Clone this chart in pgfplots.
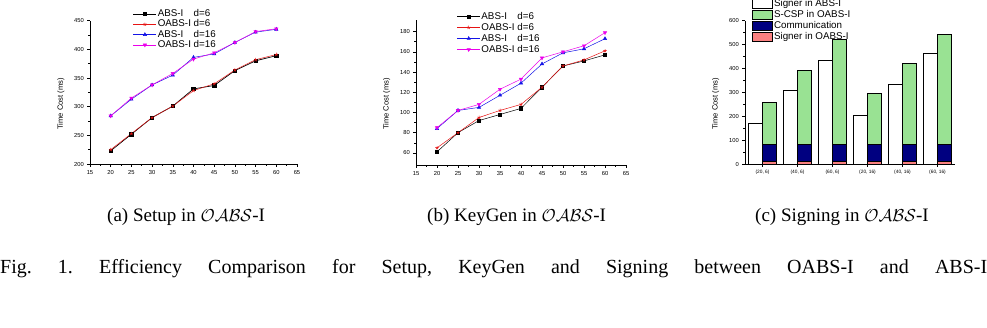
\documentclass[border=0pt]{standalone}
\usepackage{pgfplots}
\pgfplotsset{compat=1.18}
\usepackage{fontspec}
\setmainfont{Liberation Serif}
\setsansfont{Liberation Sans}
\definecolor{cgreen}{RGB}{153,226,147}
\definecolor{cnavy}{RGB}{0,0,128}
\definecolor{cpink}{RGB}{250,128,128}
\definecolor{cmag}{RGB}{235,0,235}
\definecolor{cblue}{RGB}{20,20,230}
\definecolor{cred}{RGB}{230,20,20}

\pgfplotsset{
  originstyle/.style={
    scale only axis,
    axis x line*=bottom, axis y line*=left,
    axis line style={-, line width=0.7pt},
    tick align=outside,
    major tick length=2.6pt, minor tick length=1.6pt,
    every tick/.append style={black, line width=0.5pt},
    /pgf/number format/assume math mode=true,
    tick label style={font=\fontsize{5.8}{6}\selectfont\sffamily},
    ylabel style={font=\fontsize{7.6}{8}\selectfont\sffamily, at={(axis description cs:-0.14,0.42)}, anchor=center},
    legend style={draw=none, fill=none, inner sep=0pt, outer sep=0pt, anchor=north west,
      font=\fontsize{9.8}{10}\selectfont\sffamily, row sep=1.3pt,
      nodes={inner ysep=0pt, inner xsep=1pt, text height=7pt, text depth=2pt}},
    legend cell align=left,
  },
  linelegend/.style={legend image code/.code={
    \draw[mark repeat=2, mark phase=2, ##1] plot coordinates {(0pt,0pt) (11.5pt,0pt) (23pt,0pt)};}},
  barlegend/.style={legend image code/.code={
    \draw[##1, line width=0.6pt] (0pt,-4.5pt) rectangle (20pt,4.5pt);}},
  sA/.style={black, line width=0.7pt, mark=square*, mark size=1.7pt},
  sB/.style={cred, line width=0.5pt, mark=star, mark size=1.8pt},
  sC/.style={cblue, line width=0.5pt, mark=triangle*, mark size=1.9pt},
  sD/.style={cmag, line width=0.5pt, mark=triangle*, mark size=1.9pt, mark options={rotate=180}},
}

\begin{document}
\begin{tikzpicture}[x=1pt,y=1pt]
\useasboundingbox (0,0) rectangle (987,-327);

% (a) Setup
\begin{axis}[originstyle, linelegend, at={(90pt,-164pt)}, anchor=south west,
  width=207pt, height=143.3pt, xmin=15, xmax=65, ymin=200, ymax=450,
  xtick={15,20,...,65}, ytick={200,250,...,450}, minor x tick num=1, minor y tick num=1,
  ylabel={Time Cost (ms)}, legend style={at={(0.208,1.078)}}]
\addplot[sA] coordinates {(20,223) (25,252) (30,281) (35,301) (40,331) (45,337) (50,363) (55,380) (60,389)};
\addlegendentry{ABS-I\hphantom{O} d=6}
\addplot[sB] coordinates {(20,225) (25,253) (30,281) (35,301) (40,328) (45,340) (50,364) (55,382) (60,391)};
\addlegendentry{OABS-I d=6}
\addplot[sC] coordinates {(20,284) (25,313) (30,338) (35,355) (40,386) (45,392) (50,412) (55,430) (60,435)};
\addlegendentry{ABS-I\hphantom{O} d=16}
\addplot[sD] coordinates {(20,284) (25,315) (30,338) (35,358) (40,383) (45,394) (50,412) (55,431) (60,436)};
\addlegendentry{OABS-I d=16}
\end{axis}

% (b) KeyGen
\begin{axis}[originstyle, linelegend, at={(416pt,-165pt)}, anchor=south west,
  width=210pt, height=145pt, xmin=15, xmax=65, ymin=48, ymax=191.5,
  xtick={15,20,...,65}, ytick={60,80,...,180}, minor x tick num=1, minor y tick num=1,
  ylabel={Time Cost (ms)}, legend style={at={(0.195,1.055)}, row sep=2pt}]
\addplot[sA, line width=0.5pt] coordinates {(20,61) (25,80) (30,92) (35,98) (40,104) (45,125) (50,146) (55,151) (60,157)};
\addlegendentry{ABS-I\hphantom{O} d=6}
\addplot[sB] coordinates {(20,65) (25,80) (30,95) (35,102) (40,108) (45,125) (50,146) (55,152) (60,161)};
\addlegendentry{OABS-I d=6}
\addplot[sC] coordinates {(20,84) (25,102) (30,105) (35,117) (40,129) (45,148) (50,159) (55,163) (60,173)};
\addlegendentry{ABS-I\hphantom{O} d=16}
\addplot[sD] coordinates {(20,85) (25,102) (30,108) (35,123) (40,133) (45,154) (50,160) (55,166) (60,179)};
\addlegendentry{OABS-I d=16}
\end{axis}

% (c) Signing
\begin{axis}[originstyle, ybar, barlegend, bar width=14pt, at={(745pt,-164pt)}, anchor=south west,
  width=210pt, height=143.3pt, xmin=-0.5, xmax=5.5, ymin=0, ymax=600,
  ytick={0,100,...,600}, minor y tick num=1, xtick={0,...,5},
  xticklabels={{(20, 6)},{(40, 6)},{(60, 6)},{(20, 16)},{(40, 16)},{(60, 16)}},
  x tick label style={font=\fontsize{4.8}{5}\selectfont\sffamily},
  ylabel={Time Cost (ms)}, legend style={at={(0.033,1.151)}, nodes={inner xsep=1.5pt}}]
\addplot[fill=white, draw=black, line width=0.7pt, bar shift=-7pt] coordinates {(0,170) (1,310) (2,435) (3,205) (4,335) (5,465)};
\addlegendentry{Signer in ABS-I}
\addlegendimage{fill=cgreen, draw=black}
\addlegendentry{S-CSP in OABS-I}
\addlegendimage{fill=cnavy, draw=black}
\addlegendentry{Communication}
\addlegendimage{fill=cpink, draw=black}
\addlegendentry{Signer in OABS-I}
\end{axis}
\begin{axis}[scale only axis, hide axis, ybar stacked, bar width=14pt, at={(745pt,-164pt)}, anchor=south west,
  width=210pt, height=143.3pt, xmin=-0.5, xmax=5.5, ymin=0, ymax=600]
\addplot[fill=cpink, draw=black, line width=0.7pt, bar shift=7pt] coordinates {(0,10) (1,10) (2,10) (3,10) (4,10) (5,10)};
\addplot[fill=cnavy, draw=black, line width=0.7pt, bar shift=7pt] coordinates {(0,72) (1,72) (2,72) (3,72) (4,72) (5,72)};
\addplot[fill=cgreen, draw=black, line width=0.7pt, bar shift=7pt] coordinates {(0,176) (1,310) (2,440) (3,214) (4,339) (5,461)};
\end{axis}

% captions
\node[anchor=base west, inner sep=0pt, font=\fontsize{19}{22}\selectfont] at (107,-221) {(a) Setup in $\mathcal{OABS}$-I};
\node[anchor=base west, inner sep=0pt, font=\fontsize{19}{22}\selectfont] at (427,-221) {(b) KeyGen in $\mathcal{OABS}$-I};
\node[anchor=base west, inner sep=0pt, font=\fontsize{19}{22}\selectfont] at (755,-221) {(c) Signing in $\mathcal{OABS}$-I};
\node[anchor=base west, inner sep=0pt, font=\fontsize{20}{24}\selectfont] at (0,-273)
  {\makebox[987pt]{Fig.\hfill 1.\hfill Efficiency\hfill Comparison\hfill for\hfill Setup,\hfill KeyGen\hfill and\hfill Signing\hfill between\hfill OABS-I\hfill and\hfill ABS-I}};
\end{tikzpicture}
\end{document}
